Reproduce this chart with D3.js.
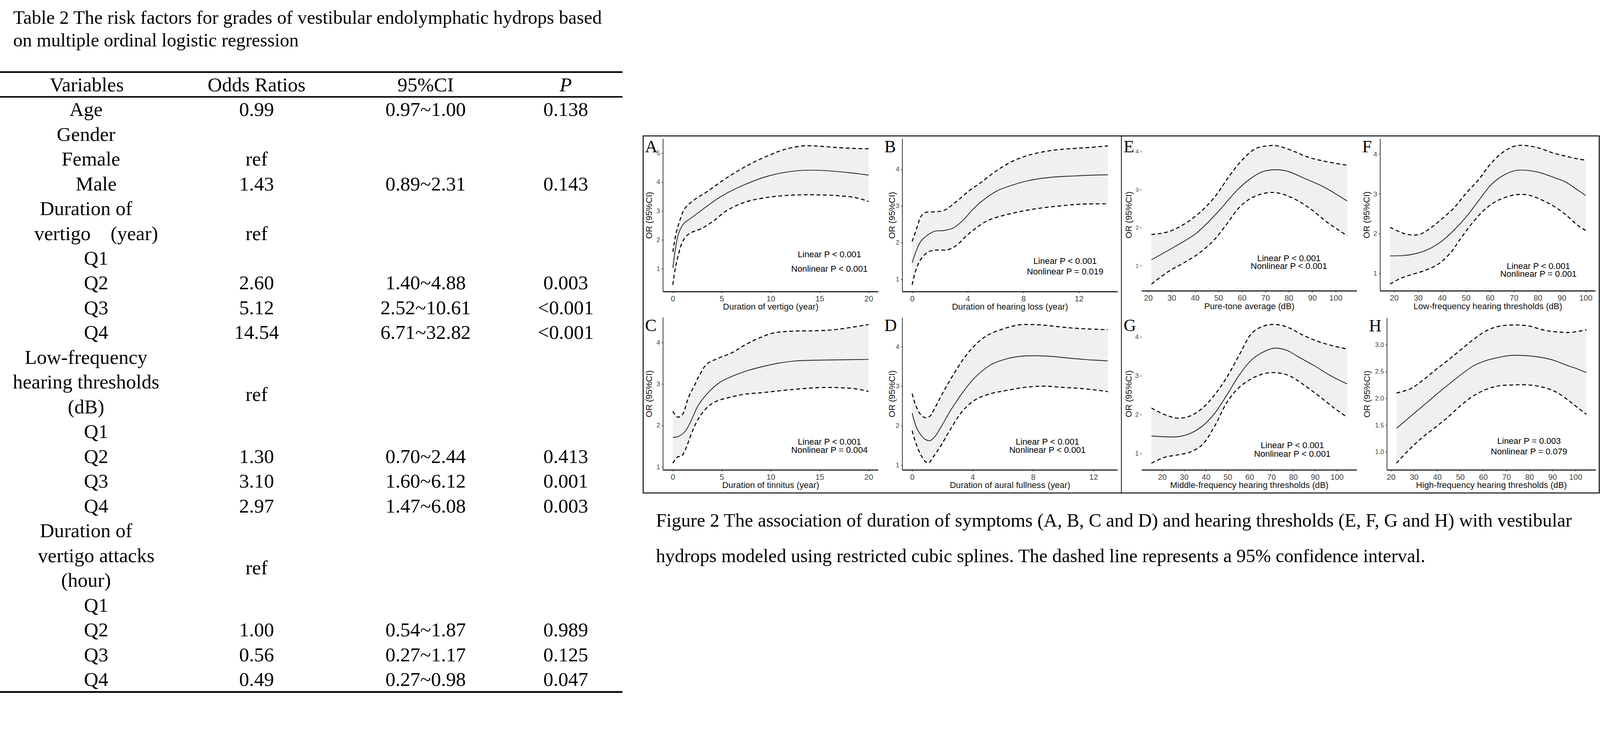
<!DOCTYPE html>
<html>
<head>
<meta charset="utf-8">
<script src="https://cdn.jsdelivr.net/npm/d3@7"></script>
<style>
  html, body { margin: 0; padding: 0; width: 100%; height: 100%; overflow: hidden; background: #fff; }
  #chart_container { width: 100vw; height: 100vh; }
  svg { display: block; }
</style>
</head>
<body>
<div id="chart_container"></div>
<script>

// ---- Table data ----

const rowLabels = ["Age", "Gender", "Female", "Male", "Duration of", "vertigo\u3000(year)", "Q1", "Q2", "Q3", "Q4",
  "Low-frequency", "hearing thresholds", "(dB)", "Q1", "Q2", "Q3", "Q4",
  "Duration of", "vertigo attacks", "(hour)", "Q1", "Q2", "Q3", "Q4"]
const oddsRatios = ["0.99", "", "ref", "1.43", "", "", "ref", "2.60", "5.12", "14.54",
  "", "", "", "ref", "1.30", "3.10", "2.97",
  "", "", "", "ref", "1.00", "0.56", "0.49"]
const confInts = ["0.97~1.00", "", "", "0.89~2.31", "", "", "", "1.40~4.88", "2.52~10.61", "6.71~32.82",
  "", "", "", "", "0.70~2.44", "1.60~6.12", "1.47~6.08",
  "", "", "", "", "0.54~1.87", "0.27~1.17", "0.27~0.98"]
const pValues = ["0.138", "", "", "0.143", "", "", "", "0.003", "<0.001", "<0.001",
  "", "", "", "", "0.413", "0.001", "0.003",
  "", "", "", "", "0.989", "0.125", "0.047"]
const headers = ["Variables", "Odds Ratios", "95%CI", "P"]

// ---- Spline data: [x, OR] ----

const aFit = [[0,1.03],[0.22,1.59],[0.54,2.17],[1.01,2.52],[1.3,2.62],[1.8,2.74],[2.91,3.02],[4.97,3.51],[7.34,3.91],[9.87,4.22],[12.4,4.38],[14.3,4.41],[16.2,4.38],[18.1,4.32],[20,4.24]]
const aUp  = [[0,1.59],[0.32,2.21],[0.70,2.66],[1.17,3.06],[1.96,3.33],[3.54,3.68],[5.44,4.13],[7.66,4.58],[9.87,4.93],[11.46,5.13],[13.35,5.25],[14.94,5.24],[16.84,5.19],[18.73,5.16],[20,5.15]]
const aLo  = [[0,0.45],[0.22,0.96],[0.54,1.45],[1.01,1.95],[1.65,2.21],[2.91,2.39],[4.18,2.66],[5.44,3.0],[7.34,3.30],[9.87,3.48],[12.4,3.55],[14.3,3.56],[16.8,3.53],[18.7,3.46],[20,3.33]]

const bFit = [[0,1.45],[0.27,1.75],[0.61,2.03],[1.05,2.19],[1.61,2.31],[2.29,2.33],[2.96,2.40],[3.63,2.60],[4.30,2.88],[4.98,3.12],[6.1,3.41],[7.22,3.57],[8.34,3.69],[9.46,3.76],[10.58,3.80],[11.7,3.82],[12.83,3.84],[14.08,3.85]]
const bUp  = [[0,2.03],[0.38,2.45],[0.61,2.70],[0.94,2.82],[1.61,2.84],[2.29,2.88],[3.18,3.12],[4.08,3.41],[4.98,3.65],[6.1,3.97],[7.22,4.22],[8.34,4.38],[9.46,4.48],[10.58,4.54],[11.7,4.57],[12.83,4.60],[14.08,4.64]]
const bLo  = [[0,0.85],[0.27,1.25],[0.61,1.54],[1.17,1.75],[1.84,1.80],[2.51,1.80],[3.18,1.92],[3.86,2.17],[4.53,2.38],[5.43,2.60],[6.55,2.74],[7.67,2.84],[9.01,2.93],[10.58,3.00],[12.15,3.05],[14.08,3.06]]

const cFit = [[0,1.71],[0.63,1.74],[1.27,1.86],[1.90,2.13],[2.54,2.46],[3.49,2.76],[4.76,3.03],[6.03,3.18],[7.62,3.32],[9.21,3.42],[10.79,3.50],[12.38,3.55],[14.29,3.57],[16.83,3.58],[20,3.59]]
const cUp  = [[0,2.34],[0.48,2.20],[0.95,2.25],[1.59,2.67],[2.22,2.97],[2.86,3.27],[3.49,3.48],[4.76,3.63],[6.03,3.75],[7.30,3.93],[8.57,4.08],[10.16,4.22],[12.13,4.27],[14.29,4.28],[16.25,4.30],[18.16,4.36],[20,4.43]]
const cLo  = [[0,1.09],[0.48,1.24],[0.89,1.26],[1.27,1.41],[1.90,1.80],[2.54,2.13],[3.49,2.43],[4.44,2.58],[5.71,2.67],[7.30,2.75],[9.21,2.79],[11.11,2.84],[13.02,2.88],[14.92,2.91],[16.83,2.91],[18.73,2.88],[20,2.82]]

const dFit = [[0,2.32],[0.25,1.99],[0.56,1.77],[0.87,1.65],[1.18,1.62],[1.48,1.71],[1.90,1.96],[2.52,2.37],[3.34,2.84],[4.16,3.22],[5.20,3.54],[6.23,3.69],[7.26,3.76],[8.29,3.77],[9.32,3.75],[10.35,3.71],[11.59,3.67],[12.95,3.64]]
const dUp  = [[0,2.81],[0.25,2.50],[0.56,2.28],[0.87,2.20],[1.18,2.24],[1.48,2.43],[2.0,2.81],[2.52,3.16],[3.34,3.66],[4.16,4.04],[4.99,4.29],[6.02,4.45],[7.05,4.55],[8.08,4.56],[9.11,4.53],[10.35,4.48],[11.59,4.45],[12.95,4.43]]
const dLo  = [[0,1.87],[0.25,1.55],[0.56,1.27],[0.87,1.09],[1.07,1.05],[1.38,1.20],[1.90,1.49],[2.52,1.90],[3.34,2.37],[4.16,2.65],[5.20,2.81],[6.23,2.89],[7.46,2.97],[8.70,3.00],[9.94,2.97],[11.18,2.94],[12.41,2.89],[12.95,2.86]]

const eFit = [[21.4,1.16],[31.0,1.49],[40.4,1.85],[49.7,2.41],[57.7,2.97],[63.0,3.26],[68.3,3.46],[73.2,3.52],[79.0,3.49],[86.9,3.29],[94.9,3.07],[104.9,2.70]]
const eUp  = [[21.4,1.82],[28.4,1.89],[35.0,2.08],[41.7,2.38],[48.3,2.80],[55.0,3.39],[60.3,3.79],[65.6,4.07],[71.0,4.15],[75.0,4.15],[81.6,4.02],[88.3,3.85],[94.9,3.75],[104.9,3.64]]
const eLo  = [[21.4,0.52],[28.4,0.84],[35.0,1.07],[41.7,1.33],[48.3,1.69],[53.7,2.11],[59.0,2.54],[64.3,2.79],[71.0,2.92],[76.3,2.90],[82.9,2.74],[89.6,2.48],[96.2,2.15],[104.9,1.79]]

const fFit = [[18.3,1.44],[24.2,1.45],[29.3,1.50],[34.5,1.61],[39.7,1.80],[44.9,2.08],[50.1,2.42],[55.3,2.83],[60.5,3.23],[65.7,3.47],[70.8,3.59],[76.0,3.59],[81.2,3.53],[86.4,3.42],[91.6,3.30],[96.8,3.09],[100,2.96]]
const fUp  = [[18.3,2.16],[22.9,2.03],[26.7,1.97],[30.6,1.98],[34.5,2.11],[39.7,2.36],[44.9,2.64],[50.1,3.02],[55.3,3.36],[60.5,3.77],[65.7,4.06],[70.8,4.21],[76.0,4.21],[81.2,4.14],[86.4,4.03],[91.6,3.95],[96.8,3.88],[100,3.85]]
const fLo  = [[18.3,0.73],[22.9,0.88],[28.0,0.98],[33.2,1.08],[38.4,1.23],[43.6,1.52],[47.5,1.85],[52.7,2.27],[57.9,2.61],[63.1,2.83],[70.8,2.98],[76.0,2.97],[81.2,2.86],[86.4,2.70],[91.6,2.48],[96.8,2.20],[100,2.08]]

const gFit = [[15.1,1.45],[21.1,1.43],[26.9,1.43],[32.6,1.51],[38.3,1.70],[44.0,2.03],[49.7,2.51],[55.4,3.03],[61.1,3.42],[66.9,3.63],[71.1,3.71],[76.9,3.66],[82.6,3.48],[89.7,3.26],[96.9,3.01],[104.7,2.79]]
const gUp  = [[15.1,2.17],[21.1,2.00],[26.9,1.91],[32.6,1.96],[38.3,2.16],[44.0,2.51],[49.7,2.97],[55.4,3.55],[61.1,4.10],[66.9,4.29],[72.6,4.32],[78.3,4.23],[84.0,4.06],[91.1,3.89],[98.3,3.77],[104.7,3.69]]
const gLo  = [[15.1,0.75],[21.1,0.90],[26.9,0.96],[32.6,1.03],[38.3,1.22],[44.0,1.70],[49.7,2.32],[55.4,2.71],[61.1,2.93],[66.9,3.06],[72.6,3.08],[78.3,3.00],[84.0,2.80],[91.1,2.51],[98.3,2.19],[104.7,1.93]]

const hFit = [[22.4,1.44],[33.9,1.86],[44.7,2.25],[55.5,2.60],[60.9,2.70],[66.3,2.76],[71.7,2.80],[77.1,2.80],[82.5,2.78],[87.9,2.74],[91.9,2.69],[96.0,2.62],[100.7,2.55],[104.7,2.48]]
const hUp  = [[22.4,2.10],[28.5,2.18],[33.9,2.34],[39.3,2.53],[44.7,2.71],[50.1,2.90],[55.5,3.09],[60.9,3.25],[66.3,3.34],[73.0,3.37],[79.8,3.35],[86.5,3.27],[91.9,3.24],[97.3,3.23],[101.4,3.25],[104.7,3.28]]
const hLo  = [[22.4,0.79],[28.5,1.07],[33.9,1.28],[39.3,1.46],[44.7,1.65],[50.1,1.86],[55.5,2.04],[60.9,2.16],[66.3,2.23],[73.0,2.25],[79.8,2.25],[86.5,2.20],[91.9,2.11],[97.3,1.95],[101.4,1.81],[104.7,1.70]]

// ---- Axis ticks & labels ----

const yearTicks5 = [0, 5, 10, 15, 20]
const yearTicks4 = [0, 4, 8, 12]
const dbTicks = [20, 30, 40, 50, 60, 70, 80, 90, 100]
const orTicks = [1, 2, 3, 4]
const orTicksA = [1, 2, 3, 4, 5]
const orTicksH = [1.0, 1.5, 2.0, 2.5, 3.0]
const xTitles = ["Duration of vertigo (year)", "Duration of hearing loss (year)", "Duration of tinnitus (year)",
  "Duration of aural fullness (year)", "Pure-tone average (dB)", "Low-frequency hearing thresholds (dB)",
  "Middle-frequency hearing thresholds (dB)", "High-frequency hearing thresholds (dB)"]
const linearP = ["Linear P < 0.001", "Linear P < 0.001", "Linear P < 0.001", "Linear P < 0.001",
  "Linear P < 0.001", "Linear P < 0.001", "Linear P < 0.001", "Linear P = 0.003"]
const nonlinearP = ["Nonlinear P < 0.001", "Nonlinear P = 0.019", "Nonlinear P = 0.004", "Nonlinear P < 0.001",
  "Nonlinear P < 0.001", "Nonlinear P = 0.001", "Nonlinear P < 0.001", "Nonlinear P = 0.079"]

const titleLines = ["Table 2 The risk factors for grades of vestibular endolymphatic hydrops based",
  "on multiple ordinal logistic regression"]
const captionLines = ["Figure 2 The association of duration of symptoms (A, B, C and D) and hearing thresholds (E, F, G and H) with vestibular",
  "hydrops modeled using restricted cubic splines. The dashed line represents a 95% confidence interval."]

// ---- Layout ----

const W = 4259, H = 1875
const serif = "'Liberation Serif', 'Times New Roman', serif"
const sans = "'Liberation Sans', Arial, sans-serif"

// panel boxes: [left, top, right, bottom], y-title offset, annotation [fx, fy1, fy2]
const panels = [
  { id: "A", fit: aFit, up: aUp, lo: aLo, xt: yearTicks5, yt: orTicksA, box: [1765, 370, 2338, 777], ytOff: 36, ann: [0.773, 0.759, 0.853], yFont: 17 },
  { id: "B", fit: bFit, up: bUp, lo: bLo, xt: yearTicks4, yt: orTicks, box: [2402, 370, 2975, 777], ytOff: 26, ann: [0.756, 0.802, 0.872], yFont: 17 },
  { id: "C", fit: cFit, up: cUp, lo: cLo, xt: yearTicks5, yt: orTicks, box: [1765, 846, 2338, 1252], ytOff: 36, ann: [0.773, 0.818, 0.872], yFont: 17 },
  { id: "D", fit: dFit, up: dUp, lo: dLo, xt: yearTicks4, yt: orTicks, box: [2402, 846, 2975, 1252], ytOff: 26, ann: [0.674, 0.818, 0.872], yFont: 17 },
  { id: "E", fit: eFit, up: eUp, lo: eLo, xt: dbTicks, yt: orTicks, box: [3039, 370, 3612, 775], ytOff: 33, ann: [0.684, 0.790, 0.840], yFont: 15, noYLine: true },
  { id: "F", fit: fFit, up: fUp, lo: fLo, xt: dbTicks, yt: orTicks, box: [3674, 370, 4247, 775], ytOff: 35, ann: [0.735, 0.840, 0.892], yFont: 18 },
  { id: "G", fit: gFit, up: gUp, lo: gLo, xt: dbTicks, yt: orTicks, box: [3039, 846, 3612, 1252], ytOff: 33, ann: [0.700, 0.842, 0.897], yFont: 17, noYLine: true },
  { id: "H", fit: hFit, up: hUp, lo: hLo, xt: dbTicks, yt: orTicksH, box: [3692, 847, 4248, 1252], ytOff: 52, ann: [0.680, 0.813, 0.882], yFont: 17, yFmt: d3.format(".1f") }
]

// the drawing keeps its 4259x1875 frame, fitted into the window from the top-left corner
const svg = d3.select("#chart_container").append("svg")
  .attr("viewBox", `0 0 ${W} ${H}`)
  .attr("preserveAspectRatio", "xMinYMin meet")
  .attr("width", "100%")
  .attr("height", "100%")

svg.append("rect").attr("width", W).attr("height", H).attr("fill", "#fff")

// ================= Table =================

const table = svg.append("g").style("font-family", serif).attr("fill", "#000")

table.selectAll("text.title")
  .data(titleLines)
  .join("text")
  .attr("class", "title")
  .attr("x", 35)
  .attr("y", (d, i) => 63 + i * 61)
  .attr("textLength", (d, i) => i === 0 ? 1567 : 760)
  .attr("lengthAdjust", "spacingAndGlyphs")
  .style("font-size", "50px")
  .text(d => d)

const colX = [231, 683, 1133, 1506]
const rowY = d3.scaleLinear().domain([0, 23]).range([309, 1827])

table.append("line").attr("x1", 0).attr("x2", 1657).attr("y1", 192).attr("y2", 192).attr("stroke", "#000").attr("stroke-width", 4.5)
table.append("line").attr("x1", 0).attr("x2", 1657).attr("y1", 258).attr("y2", 258).attr("stroke", "#000").attr("stroke-width", 4)
table.append("line").attr("x1", 0).attr("x2", 1657).attr("y1", 1843).attr("y2", 1843).attr("stroke", "#000").attr("stroke-width", 4.5)

table.selectAll("text.head")
  .data(headers)
  .join("text")
  .attr("class", "head")
  .attr("x", (d, i) => colX[i])
  .attr("y", 243)
  .attr("text-anchor", "middle")
  .style("font-size", "53px")
  .style("font-style", (d, i) => i === 3 ? "italic" : "normal")
  .text(d => d)

const isLevel = l => /^(Q\d|Male|Female|vertigo)/.test(l)

table.selectAll("text.label")
  .data(rowLabels)
  .join("text")
  .attr("class", "label")
  .attr("x", d => isLevel(d) ? (d === "Female" ? 242 : 256) : 229)
  .attr("y", (d, i) => rowY(i))
  .attr("text-anchor", "middle")
  .style("font-size", "53px")
  .text(d => d)

// "ref" of a Q1 row sits in the middle of the variable's merged cell
function refRow(i) {
  if (rowLabels[i] !== "Q1") return i
  let s = i
  while (s > 0 && oddsRatios[s - 1] === "" && confInts[s - 1] === "") s--
  return (s + i) / 2
}

const cells = []
rowLabels.forEach((l, i) => {
  if (oddsRatios[i]) cells.push({ col: 1, row: oddsRatios[i] === "ref" ? refRow(i) : i, t: oddsRatios[i] })
  if (confInts[i]) cells.push({ col: 2, row: i, t: confInts[i] })
  if (pValues[i]) cells.push({ col: 3, row: i, t: pValues[i] })
})

table.selectAll("text.cell")
  .data(cells)
  .join("text")
  .attr("class", "cell")
  .attr("x", d => colX[d.col])
  .attr("y", d => rowY(d.row))
  .attr("text-anchor", "middle")
  .style("font-size", "53px")
  .text(d => d.t)

// ================= Figure =================

const fig = svg.append("g")

fig.append("rect")
  .attr("x", 1712).attr("y", 362)
  .attr("width", 4257 - 1712).attr("height", 1313 - 362)
  .attr("fill", "none").attr("stroke", "#000").attr("stroke-width", 2.5)

fig.append("line")
  .attr("x1", 2985).attr("x2", 2985).attr("y1", 362).attr("y2", 1313)
  .attr("stroke", "#000").attr("stroke-width", 2)

function expand(ext) {
  const pad = (ext[1] - ext[0]) * 0.05
  return [ext[0] - pad, ext[1] + pad]
}

panels.forEach((p, k) => {
  const [l, t, r, b] = p.box
  const all = p.fit.concat(p.up, p.lo)
  const x = d3.scaleLinear().domain(expand(d3.extent(all, d => d[0]))).range([l, r])
  const y = d3.scaleLinear().domain(expand(d3.extent(all, d => d[1]))).range([b, t])

  const g = fig.append("g")

  const line = d3.line()
    .x(d => x(d[0]))
    .y(d => y(d[1]))
    .curve(d3.curveCatmullRom.alpha(0.5))

  // confidence band
  const upPath = line(p.up)
  const loPath = line(p.lo.slice().reverse())
  g.append("path")
    .attr("d", upPath + "L" + loPath.slice(1) + "Z")
    .attr("fill", "#f0f0f0")
    .attr("stroke", "none")

  g.append("path")
    .datum(p.fit)
    .attr("fill", "none")
    .attr("stroke", "#1a1a1a")
    .attr("stroke-width", 2)
    .attr("d", line)

  g.selectAll("path.ci")
    .data([p.up, p.lo])
    .join("path")
    .attr("class", "ci")
    .attr("fill", "none")
    .attr("stroke", "#000")
    .attr("stroke-width", 2.8)
    .attr("stroke-dasharray", "10,7")
    .attr("d", line)

  // x axis
  const xa = g.append("g")
    .attr("transform", `translate(0, ${b})`)
    .call(d3.axisBottom(x).tickValues(p.xt).tickSize(4).tickPadding(7).tickFormat(d3.format("d")))
  xa.select(".domain").remove()
  xa.selectAll(".tick line").attr("stroke", "#333").attr("stroke-width", 1.5)
  xa.selectAll(".tick text")
    .attr("fill", "#444")
    .style("font-family", sans)
    .style("font-size", "21px")
  g.append("line")
    .attr("x1", l).attr("x2", r).attr("y1", b).attr("y2", b)
    .attr("stroke", "#000").attr("stroke-width", 2.6)

  // y axis
  const ya = g.append("g")
    .attr("transform", `translate(${l}, 0)`)
    .call(d3.axisLeft(y).tickValues(p.yt).tickSize(4).tickPadding(4).tickFormat(p.yFmt || d3.format("d")))
  ya.select(".domain").remove()
  ya.selectAll(".tick line").attr("stroke", "#333").attr("stroke-width", 1.5)
  ya.selectAll(".tick text")
    .attr("fill", "#444")
    .style("font-family", sans)
    .style("font-size", p.yFont + "px")
  if (!p.noYLine) {
    g.append("line")
      .attr("x1", l).attr("x2", l).attr("y1", t).attr("y2", b)
      .attr("stroke", "#000").attr("stroke-width", 1.6)
  }

  // titles
  g.append("text")
    .attr("x", (l + r) / 2)
    .attr("y", b + 42)
    .attr("text-anchor", "middle")
    .attr("dominant-baseline", "middle")
    .style("font-family", sans)
    .style("font-size", "23px")
    .attr("fill", "#111")
    .text(xTitles[k])

  g.append("text")
    .attr("transform", `translate(${l - p.ytOff}, ${(t + b) / 2}) rotate(-90)`)
    .attr("text-anchor", "middle")
    .attr("dominant-baseline", "middle")
    .style("font-family", sans)
    .style("font-size", "23px")
    .attr("fill", "#111")
    .text("OR (95%CI)")

  // panel letter
  g.append("text")
    .attr("x", l - 48)
    .attr("y", t + 36)
    .style("font-family", serif)
    .style("font-size", "46px")
    .attr("fill", "#000")
    .text(p.id)

  // P-value notes
  g.selectAll("text.note")
    .data([linearP[k], nonlinearP[k]])
    .join("text")
    .attr("class", "note")
    .attr("x", l + (r - l) * p.ann[0])
    .attr("y", (d, i) => t + (b - t) * p.ann[i + 1])
    .attr("text-anchor", "middle")
    .attr("dominant-baseline", "middle")
    .style("font-family", sans)
    .style("font-size", "23px")
    .attr("fill", "#000")
    .text(d => d)
})

// caption
svg.selectAll("text.caption")
  .data(captionLines)
  .join("text")
  .attr("class", "caption")
  .attr("x", 1746)
  .attr("y", (d, i) => 1403 + i * 94)
  .attr("textLength", (d, i) => i === 0 ? 2438 : 2048)
  .attr("lengthAdjust", "spacingAndGlyphs")
  .style("font-family", serif)
  .style("font-size", "50px")
  .attr("fill", "#000")
  .text(d => d)

</script>
</body>
</html>
